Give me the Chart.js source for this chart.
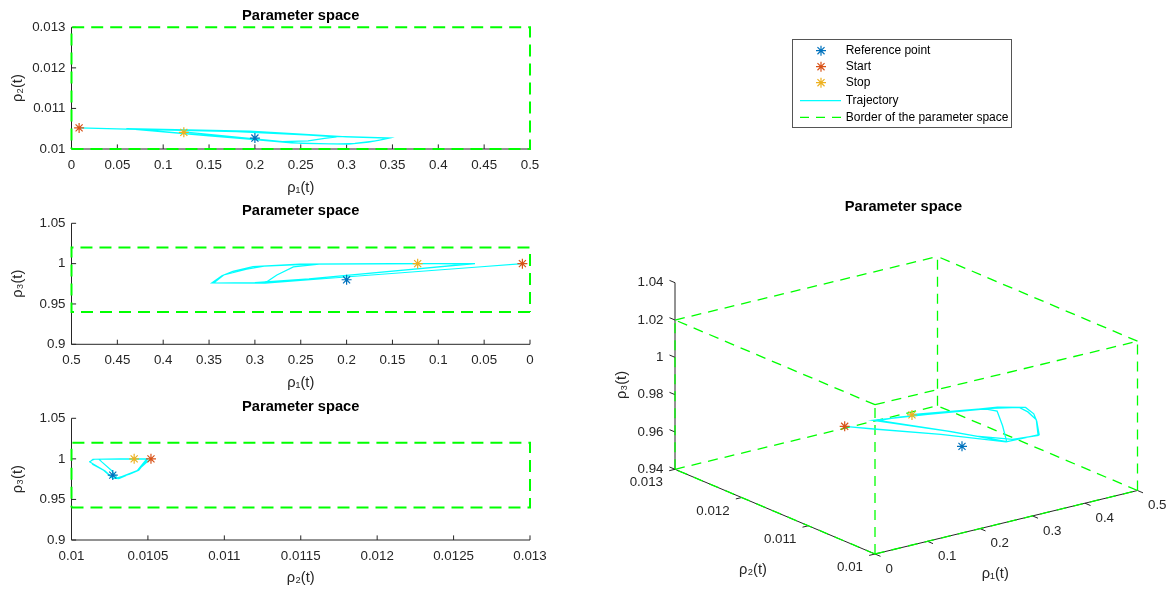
<!DOCTYPE html>
<html><head><meta charset="utf-8">
<script src="https://cdn.jsdelivr.net/npm/chart.js@4/dist/chart.umd.min.js"></script>
<style>
html,body{margin:0;padding:0;background:#fff;}
#wrap{position:relative;width:1170px;height:592px;overflow:hidden;background:#fff;}
canvas{position:absolute;}
</style></head><body>
<div id="wrap">
<canvas id="c1" width="560" height="200" style="left:0;top:0"></canvas>
<canvas id="c2" width="560" height="200" style="left:0;top:195px"></canvas>
<canvas id="c3" width="560" height="200" style="left:0;top:390px"></canvas>
<canvas id="c4" width="610" height="592" style="left:560px;top:0"></canvas>
</div>
<script>
// ---------- data ----------
const rho1Traj = [0.008,0.060,0.180,0.289,0.347,0.336,0.324,0.302,0.251,0.150,0.060,0.194,0.241,0.300,0.345,0.334,0.309,0.290,0.240,0.100,0.068,0.200,0.289,0.276,0.258,0.230,0.122];
const rho2Traj = [0.01052,0.01049,0.01043,0.01031,0.01027,0.01022,0.01017,0.01012,0.01014,0.01032,0.01050,0.01044,0.01038,0.01030,0.01027,0.01021,0.01014,0.01012,0.01015,0.01043,0.01049,0.01043,0.01030,0.01026,0.01020,0.01018,0.01042];
const rho3Traj = [1.000,0.9955,0.9853,0.9757,0.9762,0.9850,0.9905,0.9962,0.9995,1.000,1.000,0.9860,0.9810,0.9765,0.9760,0.9860,0.9930,0.9970,0.9995,1.000,0.9995,0.9855,0.9760,0.9860,0.9960,0.9995,1.000];
const refPoint = [0.2, 0.01027, 0.98];
const startPoint = [0.0083, 0.01052, 1.0];
const stopPoint = [0.1225, 0.01041, 1.0];
const rho1Border = [0, 0.5];
const rho2Border = [0.01, 0.013];
const rho3Border = [0.94, 1.02];

const rho1Lim = [0, 0.5];
const rho2Lim = [0.01, 0.013];
const rho3Lim = [0.9, 1.05];
const rho3Lim3D = [0.94, 1.04];

const rho1Ticks = [0,0.05,0.1,0.15,0.2,0.25,0.3,0.35,0.4,0.45,0.5];
const rho1TickLabels = ['0','0.05','0.1','0.15','0.2','0.25','0.3','0.35','0.4','0.45','0.5'];
const rho2Ticks = [0.01,0.011,0.012,0.013];
const rho2TickLabels = ['0.01','0.011','0.012','0.013'];
const rho2TicksFine = [0.01,0.0105,0.011,0.0115,0.012,0.0125,0.013];
const rho2TickLabelsFine = ['0.01','0.0105','0.011','0.0115','0.012','0.0125','0.013'];
const rho3Ticks = [0.9,0.95,1,1.05];
const rho3TickLabels = ['0.9','0.95','1','1.05'];
const rho1Ticks3D = [0,0.1,0.2,0.3,0.4,0.5];
const rho1TickLabels3D = ['0','0.1','0.2','0.3','0.4','0.5'];
const rho2Ticks3D = [0.01,0.011,0.012,0.013];
const rho2TickLabels3D = ['0.01','0.011','0.012','0.013'];
const rho3Ticks3D = [0.94,0.96,0.98,1,1.02,1.04];
const rho3TickLabels3D = ['0.94','0.96','0.98','1','1.02','1.04'];

const titleText = 'Parameter space';
const axisNames = ['ρ₁(t)','ρ₂(t)','ρ₃(t)'];
const legendLabels = ['Reference point','Start','Stop','Trajectory','Border of the parameter space'];

// ---------- styles ----------
const FONT = '"Liberation Sans", Arial, Helvetica, sans-serif';
const AXIS = '#262626';
const C_REF = '#0072BD', C_START = '#D95319', C_STOP = '#EDB120', C_TRAJ = '#00FFFF', C_BORDER = '#00FF00';
const TICK_FS = 13.33, LABEL_FS = 14.67, TITLE_FS = 14.67, LEG_FS = 12;
Chart.defaults.font.family = FONT;

const trajAll = [rho1Traj, rho2Traj, rho3Traj];
const borderAll = [rho1Border, rho2Border, rho3Border];
const ptAll = [refPoint, startPoint, stopPoint];

function pts2(i, j) { return trajAll[i].map((v, k) => ({x: v, y: trajAll[j][k]})); }
function rect2(i, j) {
  const X = borderAll[i], Y = borderAll[j];
  return [{x:X[0],y:Y[0]},{x:X[1],y:Y[0]},{x:X[1],y:Y[1]},{x:X[0],y:Y[1]},{x:X[0],y:Y[0]}];
}

const axes2D = {
  id: 'axes2D',
  beforeDatasetsDraw(chart) {
    const {ctx, chartArea: a, scales: {x, y}} = chart;
    const TL = 4.6;
    ctx.save();
    ctx.strokeStyle = AXIS; ctx.lineWidth = 1;
    ctx.beginPath();
    ctx.moveTo(a.left, a.top); ctx.lineTo(a.left, a.bottom); ctx.lineTo(a.right, a.bottom);
    x.ticks.forEach(t => { const px = x.getPixelForValue(t.value); ctx.moveTo(px, a.bottom); ctx.lineTo(px, a.bottom - TL); });
    y.ticks.forEach(t => { const py = y.getPixelForValue(t.value); ctx.moveTo(a.left, py); ctx.lineTo(a.left + TL, py); });
    ctx.stroke();
    ctx.restore();
  }
};

function make2D(id, o) {
  const i = o.i, j = o.j;
  const mk = (p, c, lbl) => ({label: lbl, data: [{x: p[i], y: p[j]}], pointStyle: 'star', pointRadius: 5,
    borderColor: c, backgroundColor: c, pointBorderWidth: 1.2, borderWidth: 1.2, showLine: false, clip: false, order: 0});
  const T = o.T, H = 200;
  const tpt = o.tc - T - TITLE_FS * 0.6;
  const tpb = (o.ct - T) - tpt - TITLE_FS * 1.2;
  const xh = H - (o.cb - T);
  const xtpb = H - (o.xt - T) - LABEL_FS * 0.6;
  new Chart(document.getElementById(id), {
    type: 'scatter',
    data: { datasets: [
      mk(refPoint, C_REF, legendLabels[0]),
      mk(startPoint, C_START, legendLabels[1]),
      mk(stopPoint, C_STOP, legendLabels[2]),
      {label: legendLabels[3], data: pts2(i, j), showLine: true, borderColor: C_TRAJ, borderWidth: 1.2, pointRadius: 0, tension: 0, order: 1},
      {label: legendLabels[4], data: rect2(i, j), showLine: true, borderColor: C_BORDER, borderWidth: 2, borderDash: [12, 7], pointRadius: 0, order: 2, clip: false}
    ]},
    options: {
      responsive: false, animation: false, events: [],
      layout: {padding: {left: 0, right: 30, top: 0, bottom: 0}},
      plugins: {
        legend: {display: false}, tooltip: {enabled: false},
        title: {display: true, text: titleText, fullSize: false, color: '#000',
          font: {family: FONT, size: TITLE_FS, weight: 'bold'}, padding: {top: tpt, bottom: tpb}}
      },
      scales: {
        x: {type: 'linear', min: o.xLim[0], max: o.xLim[1], reverse: !!o.reverse,
          grid: {display: false, drawTicks: false, tickLength: 0}, border: {display: false},
          ticks: {color: AXIS, font: {family: FONT, size: TICK_FS}, padding: 8, autoSkip: false, maxRotation: 0,
            callback: (v, k) => o.xLabels[k]},
          afterBuildTicks: s => { s.ticks = o.xTicks.map(v => ({value: v})); },
          afterFit: s => { s.height = xh; },
          title: {display: true, text: axisNames[i], color: AXIS, font: {family: FONT, size: LABEL_FS}, padding: {top: 0, bottom: xtpb}}
        },
        y: {type: 'linear', min: o.yLim[0], max: o.yLim[1],
          grid: {display: false, drawTicks: false, tickLength: 0}, border: {display: false},
          ticks: {color: AXIS, font: {family: FONT, size: TICK_FS}, padding: 6, autoSkip: false,
            callback: (v, k) => o.yLabels[k]},
          afterBuildTicks: s => { s.ticks = o.yTicks.map(v => ({value: v})); },
          afterFit: s => { s.width = 71.5; },
          title: {display: true, text: axisNames[j], color: AXIS, font: {family: FONT, size: LABEL_FS}, padding: {top: 9, bottom: 0}}
        }
      }
    },
    plugins: [axes2D]
  });
}

make2D('c1', {i: 0, j: 1, T: 0, ct: 27.3, cb: 149, tc: 15.5, xt: 187.5,
  xLim: rho1Lim, yLim: rho2Lim, xTicks: rho1Ticks, xLabels: rho1TickLabels, yTicks: rho2Ticks, yLabels: rho2TickLabels});
make2D('c2', {i: 0, j: 2, T: 195, ct: 223.3, cb: 344.3, tc: 211, xt: 382.7, reverse: true,
  xLim: rho1Lim, yLim: rho3Lim, xTicks: rho1Ticks, xLabels: rho1TickLabels, yTicks: rho3Ticks, yLabels: rho3TickLabels});
make2D('c3', {i: 1, j: 2, T: 390, ct: 418.3, cb: 540, tc: 406.7, xt: 577.7,
  xLim: rho2Lim, yLim: rho3Lim, xTicks: rho2TicksFine, xLabels: rho2TickLabelsFine, yTicks: rho3Ticks, yLabels: rho3TickLabels});

// ---------- 3D view (orthographic projection onto the chart's linear scales) ----------
const VIEW = {ux: 262.5, uy: 63.5, vx: -200, vy: 84.7, wy: 186.6};
function proj(r1, r2, r3) {
  const u = (r1 - rho1Lim[0]) / (rho1Lim[1] - rho1Lim[0]);
  const v = (r2 - rho2Lim[0]) / (rho2Lim[1] - rho2Lim[0]);
  const w = (r3 - rho3Lim3D[0]) / (rho3Lim3D[1] - rho3Lim3D[0]);
  return {x: VIEW.ux * u + VIEW.vx * v, y: VIEW.uy * u + VIEW.vy * v + VIEW.wy * w};
}
function boxEdges() {
  const out = [];
  const A = rho1Border, B = rho2Border, C = rho3Border;
  const corners = [];
  for (const a of [0,1]) for (const b of [0,1]) for (const c of [0,1]) corners.push([a,b,c]);
  for (let p = 0; p < 8; p++) for (let q = p + 1; q < 8; q++) {
    const P = corners[p], Q = corners[q];
    const diff = (P[0]!==Q[0]) + (P[1]!==Q[1]) + (P[2]!==Q[2]);
    if (diff !== 1) continue;
    out.push(proj(A[P[0]], B[P[1]], C[P[2]]));
    out.push(proj(A[Q[0]], B[Q[1]], C[Q[2]]));
    out.push({x: null, y: null});
  }
  return out;
}

function starPath(ctx, x, y, r) {
  for (let k = 0; k < 4; k++) {
    const ang = k * Math.PI / 4;
    const dx = Math.cos(ang) * r, dy = Math.sin(ang) * r;
    ctx.moveTo(x - dx, y - dy); ctx.lineTo(x + dx, y + dy);
  }
}

const axes3D = {
  id: 'axes3D',
  beforeDatasetsDraw(chart) {
    const {ctx, scales: {x: xs, y: ys}} = chart;
    const P = (a, b, c) => { const q = proj(a, b, c); return {x: xs.getPixelForValue(q.x), y: ys.getPixelForValue(q.y)}; };
    const unit = (p, q) => { const dx = q.x - p.x, dy = q.y - p.y, l = Math.hypot(dx, dy); return {x: dx / l, y: dy / l}; };
    const [a1, b1] = rho1Lim, [a2, b2] = rho2Lim, [a3, b3] = rho3Lim3D;
    const TL = 6;
    ctx.save();
    ctx.strokeStyle = AXIS; ctx.lineWidth = 1;
    ctx.beginPath();
    let p, q;
    p = P(a1, a2, a3); q = P(b1, a2, a3); ctx.moveTo(p.x, p.y); ctx.lineTo(q.x, q.y);
    p = P(a1, a2, a3); q = P(a1, b2, a3); ctx.moveTo(p.x, p.y); ctx.lineTo(q.x, q.y);
    p = P(a1, b2, a3); q = P(a1, b2, b3); ctx.moveTo(p.x, p.y); ctx.lineTo(q.x, q.y);
    const d1 = unit(P(a1, b2, a3), P(a1, a2, a3));
    const d2 = unit(P(b1, a2, a3), P(a1, a2, a3));
    const d3 = unit(P(a1, a2, a3), P(a1, b2, a3));
    rho1Ticks3D.forEach(v => { const t = P(v, a2, a3); ctx.moveTo(t.x, t.y); ctx.lineTo(t.x + d1.x * TL, t.y + d1.y * TL); });
    rho2Ticks3D.forEach(v => { const t = P(a1, v, a3); ctx.moveTo(t.x, t.y); ctx.lineTo(t.x + d2.x * TL, t.y + d2.y * TL); });
    rho3Ticks3D.forEach(v => { const t = P(a1, b2, v); ctx.moveTo(t.x, t.y); ctx.lineTo(t.x + d3.x * TL, t.y + d3.y * TL); });
    ctx.stroke();

    ctx.fillStyle = AXIS;
    ctx.font = TICK_FS + 'px ' + FONT;
    ctx.textBaseline = 'middle';
    ctx.textAlign = 'left';
    rho1Ticks3D.forEach((v, k) => { const t = P(v, a2, a3); ctx.fillText(rho1TickLabels3D[k], t.x + 10.5, t.y + 15); });
    ctx.textAlign = 'right';
    rho2Ticks3D.forEach((v, k) => { const t = P(a1, v, a3); ctx.fillText(rho2TickLabels3D[k], t.x - 12, t.y + 13.5); });
    rho3Ticks3D.forEach((v, k) => { const t = P(a1, b2, v); ctx.fillText(rho3TickLabels3D[k], t.x - 11.5, t.y); });

    ctx.font = LABEL_FS + 'px ' + FONT;
    ctx.textAlign = 'center';
    const m1 = P((a1 + b1) / 2, a2, a3);
    ctx.fillText(axisNames[0], m1.x - 11, m1.y + 52);
    const m2 = P(a1, (a2 + b2) / 2, a3);
    ctx.fillText(axisNames[1], m2.x - 22, m2.y + 58);
    const m3 = P(a1, b2, (a3 + b3) / 2);
    ctx.save(); ctx.translate(m3.x - 53, m3.y + 9); ctx.rotate(-Math.PI / 2); ctx.fillText(axisNames[2], 0, 0); ctx.restore();

    ctx.fillStyle = '#000';
    ctx.font = 'bold ' + TITLE_FS + 'px ' + FONT;
    ctx.fillText(titleText, 343.5, 206.7);
    ctx.restore();
  },
  afterDatasetsDraw(chart) {
    const ctx = chart.ctx;
    ctx.save();
    ctx.fillStyle = '#fff';
    ctx.fillRect(232, 39, 219, 88);
    ctx.strokeStyle = '#555'; ctx.lineWidth = 1;
    ctx.strokeRect(232.5, 39.5, 219, 88);
    const rows = [50.7, 66.7, 82.7, 100.7, 117.3];
    const cols = [C_REF, C_START, C_STOP];
    ctx.lineWidth = 1.2;
    cols.forEach((c, k) => { ctx.strokeStyle = c; ctx.beginPath(); starPath(ctx, 261, rows[k], 5); ctx.stroke(); });
    ctx.strokeStyle = C_TRAJ; ctx.lineWidth = 1.2;
    ctx.beginPath(); ctx.moveTo(240, rows[3]); ctx.lineTo(281, rows[3]); ctx.stroke();
    ctx.strokeStyle = C_BORDER; ctx.setLineDash([9, 7]);
    ctx.beginPath(); ctx.moveTo(240, rows[4]); ctx.lineTo(281, rows[4]); ctx.stroke();
    ctx.setLineDash([]);
    ctx.fillStyle = '#000';
    ctx.font = LEG_FS + 'px ' + FONT;
    ctx.textAlign = 'left'; ctx.textBaseline = 'middle';
    legendLabels.forEach((t, k) => ctx.fillText(t, 285.7, rows[k]));
    ctx.restore();
  }
};

const mk3 = (p, c, lbl) => ({label: lbl, data: [proj(p[0], p[1], p[2])], pointStyle: 'star', pointRadius: 5,
  borderColor: c, backgroundColor: c, pointBorderWidth: 1.2, showLine: false, clip: false, order: 0});

new Chart(document.getElementById('c4'), {
  type: 'scatter',
  data: { datasets: [
    mk3(refPoint, C_REF, legendLabels[0]),
    mk3(startPoint, C_START, legendLabels[1]),
    mk3(stopPoint, C_STOP, legendLabels[2]),
    {label: legendLabels[3], data: rho1Traj.map((v, k) => proj(v, rho2Traj[k], rho3Traj[k])), showLine: true,
      borderColor: C_TRAJ, borderWidth: 1.3, pointRadius: 0, tension: 0, clip: false, order: 1},
    {label: legendLabels[4], data: boxEdges(), showLine: true, spanGaps: false, borderColor: C_BORDER, borderWidth: 1.3,
      borderDash: [10, 7], pointRadius: 0, clip: false, order: 2}
  ]},
  options: {
    responsive: false, animation: false, events: [],
    layout: {padding: {left: 115, right: 32.5, top: 254, bottom: 38}},
    plugins: {legend: {display: false}, tooltip: {enabled: false}, title: {display: false}},
    scales: {
      x: {type: 'linear', display: false, min: -200, max: 262.5},
      y: {type: 'linear', display: false, min: 0, max: 300}
    }
  },
  plugins: [axes3D]
});
</script>
</body></html>
